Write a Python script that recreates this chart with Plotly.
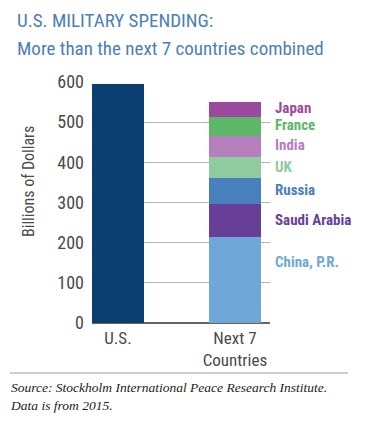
import plotly.graph_objects as go

categories = ["U.S.", "Next 7<br>Countries"]
us_value = [596]
countries = ["China, P.R.", "Saudi Arabia", "Russia", "UK", "India", "France", "Japan"]
country_values = [215, 81, 64, 54, 52, 48, 37]
colors = ["#6FA8D6", "#673F98", "#4A7FBE", "#8FCB9F", "#B57EBD", "#5CB766", "#9A4B9F"]
y_ticks = [0, 100, 200, 300, 400, 500, 600]

COND = "Roboto Condensed, Liberation Sans Narrow, Roboto, sans-serif"

# page body has an 8px margin, so the figure is laid out 8px in from the window edges
W, H = 362, 421
PL, PT, PW, PH = 84, 74, 178, 241


def py(ypx):
    return (PT + PH - ypx) / PH


def px(xpx):
    return (xpx - PL) / PW


fig = go.Figure()
fig.add_bar(x=[0], y=us_value, width=0.444, marker=dict(color="#0B3F72", line=dict(width=0)),
            showlegend=False, hoverinfo="skip")
for name, val, col in zip(countries, country_values, colors):
    fig.add_bar(x=[1], y=[val], width=0.444, marker=dict(color=col, line=dict(width=0)),
                name=name, showlegend=False, hoverinfo="skip")

# labels beside stacked segments
cum = 0
for i, (name, val, col) in enumerate(zip(countries, country_values, colors)):
    center = cum + val / 2
    if i == 0:
        center = cum + val * 0.7
    cum += val
    fig.add_annotation(x=px(265), y=center + 2, text="<b>%s</b>" % name, showarrow=False,
                       xanchor="left", yanchor="middle", xref="paper", yref="y",
                       font=dict(family=COND, size=15, color=col))

fig.update_layout(
    barmode="stack",
    width=W, height=H,
    margin=dict(l=PL, r=W - PL - PW, t=PT, b=H - PT - PH, autoexpand=False),
    plot_bgcolor="white", paper_bgcolor="white",
    bargap=0,
    xaxis=dict(range=[-0.222, 1.3], tickvals=[0, 1], ticktext=categories, showgrid=False,
               zeroline=False, showline=False, ticks="", automargin=False, ticklabelstandoff=3,
               tickfont=dict(family=COND, size=17, color="#4a4a4a")),
    yaxis=dict(range=[0, 600], tickvals=y_ticks, showgrid=True, gridcolor="#b5b5b5", gridwidth=1.3,
               zeroline=True, zerolinecolor="#666666", zerolinewidth=1.5, showline=False,
               ticks="", ticklabelstandoff=7, automargin=False,
               tickfont=dict(family=COND, size=18, color="#4a4a4a")),
)

# y-axis title
fig.add_annotation(text="Billions of Dollars", x=px(20), y=py(174), xref="paper", yref="paper",
                   textangle=-90, showarrow=False, xanchor="center", yanchor="middle",
                   font=dict(family=COND, size=16, color="#4a4a4a"))

# title lines
fig.add_annotation(text="U.S. MILITARY SPENDING:", x=px(7), y=py(12.5), xref="paper", yref="paper",
                   xanchor="left", yanchor="middle", showarrow=False,
                   font=dict(family=COND, size=19, color="#4B7FB7"))
fig.add_annotation(text="More than the next 7 countries combined", x=px(7), y=py(40),
                   xref="paper", yref="paper", xanchor="left", yanchor="middle", showarrow=False,
                   font=dict(family=COND, size=19, color="#4B7FB7"))

# separator line and source
fig.add_shape(type="line", xref="paper", yref="paper",
              x0=px(2), x1=px(340), y0=py(365), y1=py(365),
              line=dict(color="#999999", width=1))
fig.add_annotation(text="<i>Source: Stockholm International Peace Research Institute.<br>Data is from 2015.</i>",
                   x=px(0), y=py(370), xref="paper", yref="paper",
                   xanchor="left", yanchor="top", align="left", showarrow=False,
                   font=dict(family="Liberation Serif, DejaVu Serif, serif", size=13.5, color="#222222"))

fig.write_html("out.html")
